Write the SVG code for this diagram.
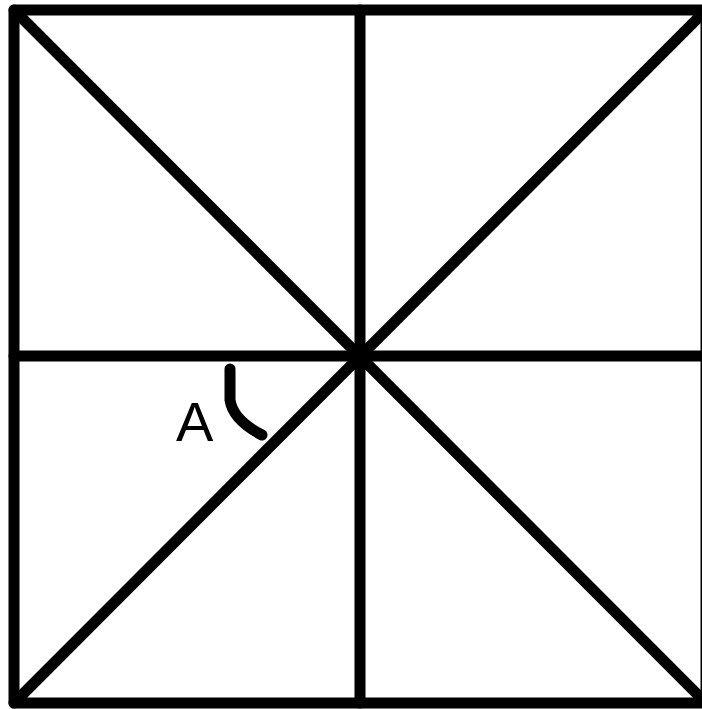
<svg xmlns="http://www.w3.org/2000/svg" width="702" height="709" viewBox="0 0 702 709">
<style>
.ln{stroke:#000;stroke-width:11;fill:none;stroke-linecap:round;stroke-linejoin:round}
.lbl{font-family:"Liberation Sans",Arial,sans-serif;font-size:56px;fill:#000}
</style>
<rect width="702" height="709" fill="#fff"/>
<g id="connectors">
<rect class="ln" x="14" y="10" width="692" height="693"/>
<line class="ln" x1="360" y1="10" x2="360" y2="703"/>
<line class="ln" x1="14" y1="356" x2="706" y2="356"/>
<line class="ln" x1="14" y1="10" x2="706" y2="703"/>
<line class="ln" x1="706" y1="10" x2="14" y2="703"/>
</g>
<g id="angle-A">
<path class="ln" d="M230,369 L230,400 Q233,420 262,435" stroke-width="10"/>
<text class="lbl" x="176" y="441">A</text>
</g>
</svg>
